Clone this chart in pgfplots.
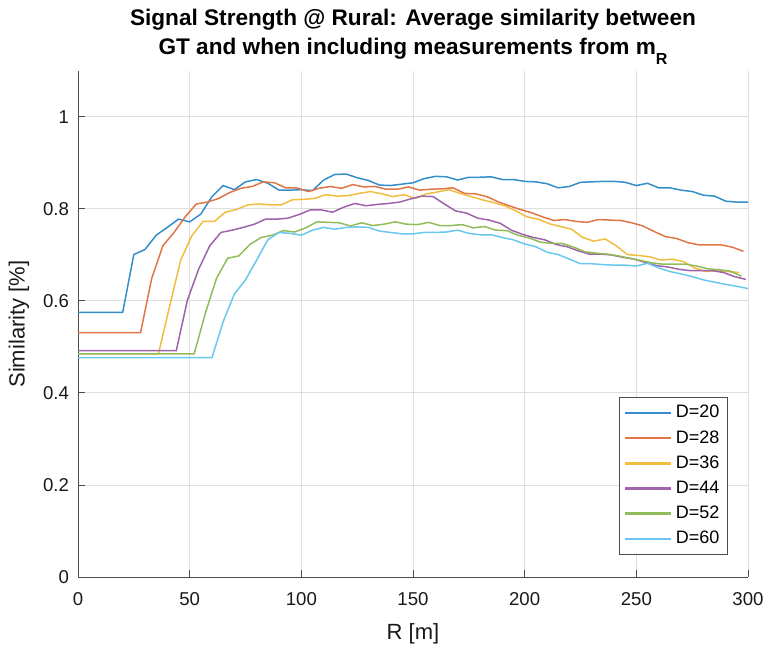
\documentclass[border=0pt]{standalone}
\usepackage{fontspec}
\setmainfont{Liberation Sans}
\newfontfamily\titlefont{Liberation Sans}
\usepackage{pgfplots}
\pgfplotsset{compat=1.18}
\definecolor{c1}{rgb}{0.000,0.447,0.741}
\definecolor{c2}{rgb}{0.850,0.325,0.098}
\definecolor{c3}{rgb}{0.929,0.694,0.125}
\definecolor{c4}{rgb}{0.494,0.184,0.556}
\definecolor{c5}{rgb}{0.466,0.674,0.188}
\definecolor{c6}{rgb}{0.301,0.745,0.933}
\definecolor{axgray}{rgb}{0.30,0.30,0.30}
\begin{document}
\begin{tikzpicture}
\path[use as bounding box] (-39pt,-35pt) rectangle (345.5pt,288.5pt);
\begin{axis}[
  name=ax,
  at={(0,0)}, anchor=south west,
  scale only axis,
  width=335pt, height=253pt,
  xmin=0, xmax=300, ymin=0, ymax=1.1,
  xtick={0,50,...,300},
  ytick={0,0.2,0.4,0.6,0.8,1},
  yticklabels={0,0.2,0.4,0.6,0.8,1},
  axis x line*=bottom, axis y line*=left,
  axis line style={axgray, line width=0.5pt},
  tick align=inside,
  major tick length=3.5pt,
  tick style={axgray, line width=0.5pt},
  grid=major,
  major grid style={gray!25, line width=0.5pt},
  /pgf/number format/assume math mode=true,
  ticklabel style={font=\fontsize{9.3}{11}\selectfont, text=black!90},
  xticklabel style={yshift=-4pt},
  yticklabel style={xshift=-1pt},
  xlabel={R [m]},
  ylabel={Similarity [\%]},
  label style={font=\fontsize{11}{13}\selectfont, text=black!90},
  xlabel style={at={(axis description cs:0.5,-0.113)}, anchor=center},
  ylabel style={at={(axis description cs:-0.088,0.5)}, anchor=center},
  title={Signal Strength @ Rural: Average similarity between\\GT and when including measurements from m\raisebox{-5pt}{\fontsize{8}{9}\selectfont R}},
  title style={font=\titlefont\bfseries\fontsize{11.3}{14.5}\selectfont, align=center, at={(axis description cs:0.5,1)}, anchor=south, yshift=-6.5pt},
  legend style={at={(rel axis cs:1,0)}, anchor=south east, xshift=-10pt, yshift=11pt,
    draw=axgray, line width=0.5pt, font=\fontsize{9}{11}\selectfont, inner sep=2pt,
    row sep=0.8pt, legend cell align=left},
  legend image code/.code={\draw[#1, line width=1.2pt] (0pt,0pt) -- (23pt,0pt);},
  every axis plot/.append style={line width=0.75pt},
]
\addplot[c1!80] coordinates {(0,0.575)(20,0.575)(25,0.701)(30,0.712)(35,0.743)(40,0.760)(45,0.778)(50,0.772)(55,0.789)(60,0.827)(65,0.851)(70,0.842)(75,0.859)(80,0.864)(85,0.856)(90,0.841)(95,0.841)(100,0.842)(105,0.840)(110,0.863)(115,0.875)(120,0.876)(125,0.868)(130,0.862)(135,0.852)(140,0.851)(145,0.854)(150,0.857)(155,0.866)(160,0.871)(165,0.870)(170,0.863)(175,0.869)(180,0.869)(185,0.870)(190,0.864)(195,0.864)(200,0.860)(205,0.859)(210,0.855)(215,0.846)(220,0.849)(225,0.858)(230,0.859)(235,0.860)(240,0.860)(245,0.858)(250,0.851)(255,0.856)(260,0.846)(265,0.846)(270,0.841)(275,0.838)(280,0.830)(285,0.828)(290,0.817)(295,0.815)(300,0.815)};
\addlegendentry{D=20}
\addplot[c2!80] coordinates {(0,0.531)(28,0.531)(33,0.649)(38,0.720)(43,0.749)(48,0.783)(53,0.811)(58,0.815)(63,0.823)(68,0.836)(73,0.845)(78,0.849)(83,0.859)(88,0.857)(93,0.846)(98,0.846)(103,0.838)(108,0.845)(113,0.849)(118,0.845)(123,0.853)(128,0.848)(133,0.849)(138,0.843)(143,0.843)(148,0.848)(153,0.841)(158,0.843)(163,0.844)(168,0.846)(173,0.834)(178,0.833)(183,0.827)(188,0.816)(193,0.807)(198,0.799)(203,0.792)(208,0.783)(213,0.775)(218,0.777)(223,0.773)(228,0.771)(233,0.777)(238,0.776)(243,0.775)(248,0.770)(253,0.763)(258,0.751)(263,0.740)(268,0.736)(273,0.727)(278,0.722)(283,0.722)(288,0.722)(293,0.717)(298,0.708)};
\addlegendentry{D=28}
\addplot[c3!85] coordinates {(0,0.485)(36,0.485)(41,0.588)(46,0.689)(51,0.742)(56,0.773)(61,0.773)(66,0.793)(71,0.799)(76,0.809)(81,0.811)(86,0.809)(91,0.809)(96,0.820)(101,0.821)(106,0.823)(111,0.831)(116,0.828)(121,0.829)(126,0.834)(131,0.838)(136,0.833)(141,0.827)(146,0.831)(151,0.823)(156,0.833)(161,0.837)(166,0.842)(171,0.834)(176,0.827)(181,0.820)(186,0.814)(191,0.807)(196,0.796)(201,0.783)(206,0.778)(211,0.768)(216,0.762)(221,0.756)(226,0.738)(231,0.730)(236,0.735)(241,0.720)(246,0.701)(251,0.699)(256,0.696)(261,0.689)(266,0.691)(271,0.686)(276,0.672)(281,0.664)(286,0.666)(291,0.664)(296,0.662)};
\addlegendentry{D=36}
\addplot[c4!75] coordinates {(0,0.492)(44,0.492)(49,0.602)(54,0.669)(59,0.720)(64,0.749)(69,0.754)(74,0.760)(79,0.767)(84,0.778)(89,0.778)(94,0.780)(99,0.788)(104,0.798)(109,0.798)(114,0.793)(119,0.804)(124,0.812)(129,0.807)(134,0.810)(139,0.812)(144,0.815)(149,0.822)(154,0.828)(159,0.827)(164,0.811)(169,0.796)(174,0.791)(179,0.780)(184,0.776)(189,0.769)(194,0.754)(199,0.745)(204,0.738)(209,0.733)(214,0.723)(219,0.718)(224,0.709)(229,0.702)(234,0.702)(239,0.700)(244,0.695)(249,0.691)(254,0.684)(259,0.677)(264,0.674)(269,0.669)(274,0.666)(279,0.666)(284,0.666)(289,0.662)(294,0.653)(299,0.647)};
\addlegendentry{D=44}
\addplot[c5!80] coordinates {(0,0.485)(52,0.485)(57,0.573)(62,0.649)(67,0.693)(72,0.698)(77,0.723)(82,0.738)(87,0.743)(92,0.753)(97,0.750)(102,0.759)(107,0.772)(112,0.771)(117,0.770)(122,0.763)(127,0.770)(132,0.764)(137,0.767)(142,0.772)(147,0.767)(152,0.766)(157,0.771)(162,0.764)(167,0.764)(172,0.766)(177,0.759)(182,0.762)(187,0.754)(192,0.753)(197,0.743)(202,0.737)(207,0.728)(212,0.725)(217,0.725)(222,0.717)(227,0.707)(232,0.704)(237,0.702)(242,0.698)(247,0.693)(252,0.688)(257,0.683)(262,0.680)(267,0.680)(272,0.680)(277,0.676)(282,0.670)(287,0.668)(292,0.665)(297,0.654)};
\addlegendentry{D=52}
\addplot[c6!85] coordinates {(0,0.477)(60,0.477)(65,0.555)(70,0.615)(75,0.646)(80,0.689)(85,0.733)(90,0.749)(95,0.747)(100,0.743)(105,0.754)(110,0.760)(115,0.756)(120,0.760)(125,0.761)(130,0.760)(135,0.752)(140,0.749)(145,0.746)(150,0.746)(155,0.749)(160,0.749)(165,0.750)(170,0.754)(175,0.747)(180,0.744)(185,0.744)(190,0.738)(195,0.733)(200,0.724)(205,0.718)(210,0.706)(215,0.701)(220,0.691)(225,0.681)(230,0.681)(235,0.679)(240,0.678)(245,0.678)(250,0.676)(255,0.682)(260,0.672)(265,0.664)(270,0.659)(275,0.653)(280,0.646)(285,0.641)(290,0.636)(295,0.632)(300,0.627)};
\addlegendentry{D=60}
\end{axis}
\end{tikzpicture}
\end{document}
